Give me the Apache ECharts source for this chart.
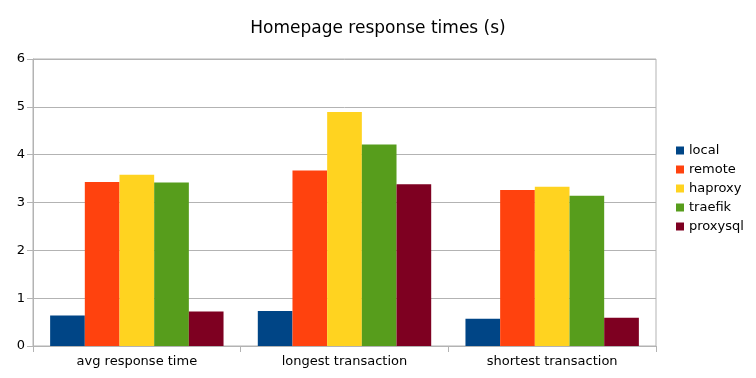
<!DOCTYPE html>
<html>
<head>
<meta charset="utf-8">
<script src="https://cdn.jsdelivr.net/npm/echarts@6/dist/echarts.min.js"></script>
<style>html,body{margin:0;padding:0;background:#fff}#c{width:756px;height:378px}</style>
</head>
<body>
<div id="c"></div>
<script>
const categories = ['avg response time', 'longest transaction', 'shortest transaction'];
const seriesNames = ['local', 'remote', 'haproxy', 'traefik', 'proxysql'];
const local = [0.64, 0.73, 0.57];
const remote = [3.43, 3.67, 3.26];
const haproxy = [3.58, 4.89, 3.33];
const traefik = [3.42, 4.21, 3.14];
const proxysql = [0.72, 3.38, 0.59];
const yTicks = [0, 1, 2, 3, 4, 5, 6];

const colors = ['#004586', '#ff420e', '#ffd320', '#579d1c', '#7e0021'];
const values = [local, remote, haproxy, traefik, proxysql];
const font = 'DejaVu Sans';

const chart = echarts.init(document.getElementById('c'), null, {renderer: 'canvas'});
chart.setOption({
  animation: false,
  backgroundColor: '#fff',
  color: colors,
  title: {
    text: 'Homepage response times (s)',
    left: 'center',
    top: 15,
    textStyle: {fontFamily: font, fontSize: 17, fontWeight: 'normal', color: '#000'}
  },
  legend: {
    orient: 'vertical',
    left: 676,
    top: 144,
    padding: 0,
    itemWidth: 8,
    itemHeight: 8,
    itemGap: 6,
    icon: 'rect',
    data: seriesNames,
    textStyle: {fontFamily: font, fontSize: 13, color: '#000'}
  },
  grid: {
    left: 33, right: 100, top: 59, bottom: 32,
    show: true, borderColor: '#b3b3b3', borderWidth: 1
  },
  xAxis: {
    type: 'category',
    data: categories,
    axisLine: {lineStyle: {color: '#b3b3b3'}},
    axisTick: {show: true, length: 6, lineStyle: {color: '#b3b3b3'}},
    axisLabel: {fontFamily: font, fontSize: 13, color: '#000', margin: 9}
  },
  yAxis: {
    type: 'value',
    min: yTicks[0],
    max: yTicks[yTicks.length - 1],
    interval: 1,
    axisLine: {show: true, lineStyle: {color: '#b3b3b3'}},
    axisTick: {show: true, length: 6, lineStyle: {color: '#b3b3b3'}},
    splitLine: {lineStyle: {color: '#b3b3b3'}},
    axisLabel: {fontFamily: font, fontSize: 13, color: '#000', margin: 8}
  },
  series: seriesNames.map((n, i) => ({
    name: n,
    type: 'bar',
    data: values[i],
    barGap: '0%',
    barCategoryGap: '16.5%',
    itemStyle: {color: colors[i]}
  }))
});
</script>
</body>
</html>
